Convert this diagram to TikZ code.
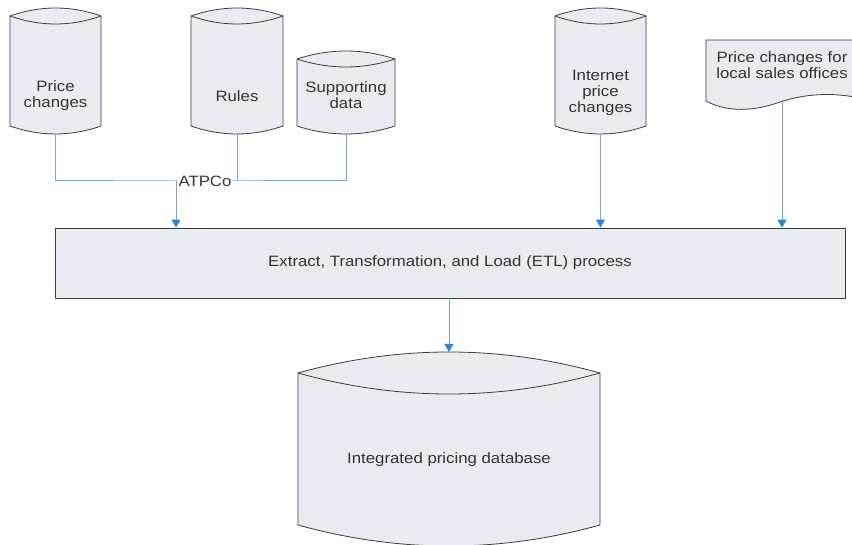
\documentclass[tikz,border=0pt]{standalone}
\usepackage{fontspec}
\setmainfont{Liberation Sans}[FakeStretch=1.12]
\usetikzlibrary{arrows.meta}
\definecolor{ink}{HTML}{333333}
\definecolor{edge}{HTML}{3C3C3C}
\definecolor{paper}{HTML}{E8ECF0}
\definecolor{wire}{HTML}{6AAAD8}
\definecolor{tip}{HTML}{2F86CC}
\tikzset{
  box/.style={draw=edge, fill=paper, line width=0.8pt, line join=round},
  lab/.style={text=ink, font=\fontsize{15}{16}\selectfont, align=center},
  link/.style={draw=wire, line width=1pt},
  flow/.style={link, -{Triangle[length=8pt,width=9pt,color=tip]}},
}
% drum: left x, right x, top y, bottom y, bulge
\newcommand{\drum}[5]{%
  \filldraw[box] (#1,#3) .. controls ({#1+(#2-#1)/3},{#3-4*#5/3}) and ({#2-(#2-#1)/3},{#3-4*#5/3}) .. (#2,#3)
    -- (#2,#4) .. controls ({#2-(#2-#1)/3},{#4+4*#5/3}) and ({#1+(#2-#1)/3},{#4+4*#5/3}) .. (#1,#4) -- cycle;
  \draw[box, fill=none] (#1,#3) .. controls ({#1+(#2-#1)/3},{#3+4*#5/3}) and ({#2-(#2-#1)/3},{#3+4*#5/3}) .. (#2,#3);
}

\begin{document}
\begin{tikzpicture}[x=1pt, y=-1pt]
  \useasboundingbox (0,0) rectangle (852,545);
  % stores
  \drum{10}{101}{16}{126}{8}
  \drum{191}{283}{16}{126}{8}
  \drum{297}{395}{59}{126}{8}
  \drum{555}{646}{16}{126}{8}
  \drum{298}{600}{373}{525}{21}
  % document
  \filldraw[box] (706,101) -- (706,40) -- (860,40) -- (860,98)
    .. controls (830,92) and (805,94) .. (780,102)
    .. controls (755,111) and (728,113) .. (706,101);
  \node[lab] (pc) at (55.5,96) {Price\\changes};
  \node[lab] (rules) at (237,96) {Rules};
  \node[lab] (supp) at (346,95) {Supporting\\data};
  \node[lab] (inet) at (600.5,93) {Internet\\price\\changes};
  \node[lab] (local) at (782,65) {Price changes for\\local sales offices};
  \node[box, lab, minimum width=790pt, minimum height=70pt] (etl) at (450,263)
    {Extract, Transformation, and Load (ETL) process};
  \node[lab] (db) at (449,460) {Integrated pricing database};
  \coordinate (pcb) at (55.5,134);
  \coordinate (rulesb) at (237,134);
  \coordinate (suppb) at (346,134);
  \coordinate (inetb) at (600.5,134);
  \coordinate (localb) at (782,100);
  \coordinate (dbt) at (449,352);
  \coordinate (atp) at (176,181);
  % connectors
  \draw[link] (pcb) |- (atp) -| (suppb);
  \draw[link] (rulesb) -- (rulesb |- atp);
  \node[lab, fill=white, inner sep=0.5pt] (atpco) at (205,181) {ATPCo};
  \draw[flow] (atp) -- (atp |- etl.north);
  \draw[flow] (inetb) -- (inetb |- etl.north);
  \draw[flow] (localb) -- (localb |- etl.north);
  \draw[flow] (etl.south -| dbt) -- (dbt);
\end{tikzpicture}
\end{document}
